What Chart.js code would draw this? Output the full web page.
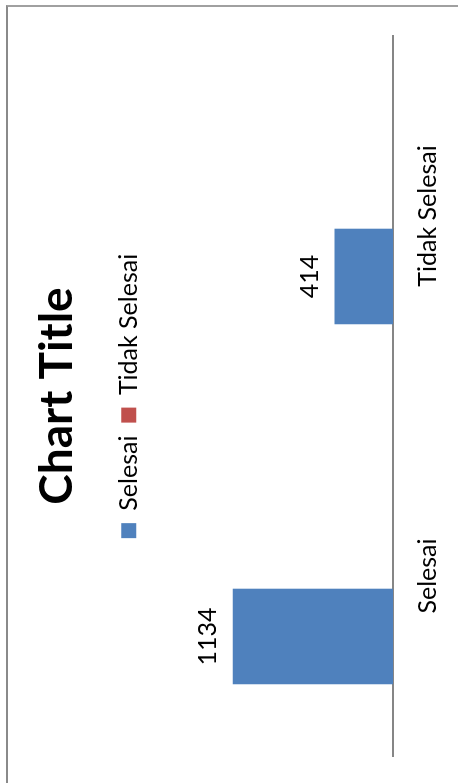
<!DOCTYPE html>
<html>
<head>
<meta charset="utf-8">
<script src="https://cdn.jsdelivr.net/npm/chart.js@4"></script>
<style>
    html, body { margin: 0; padding: 0; overflow: hidden; background: #fff; }
    #frame {
        position: absolute; left: 6px; top: 5px; width: 600px; height: 900px;
        border-left: 2px solid #8a8a8a; border-top: 2px solid #a0a0a0;
    }
    #wrap {
        position: absolute; left: 0; top: 0; width: 783px; height: 470px;
        transform-origin: 0 0; transform: translate(0, 783px) rotate(-90deg);
    }
</style>
</head>
<body>
<div id="frame"></div>
<div id="wrap"><canvas id="statusChart"></canvas></div>
<script>
const categories = ['Selesai', 'Tidak Selesai'];
const selesaiValues = [1134, 414];
const tidakSelesaiValues = [null, null];

const fontName = 'Lato, sans-serif';

// value labels above the bars
const valueLabels = {
    id: 'valueLabels',
    afterDatasetsDraw(chart) {
        const ctx = chart.ctx;
        ctx.save();
        ctx.font = '25px ' + fontName;
        ctx.fillStyle = '#000';
        ctx.textAlign = 'center';
        ctx.textBaseline = 'middle';
        chart.data.datasets.forEach((ds, i) => {
            chart.getDatasetMeta(i).data.forEach((bar, j) => {
                if (ds.data[j] == null) return;
                ctx.fillText(ds.data[j], bar.x, bar.y - 25);
            });
        });
        ctx.restore();
    }
};

const ctx = document.getElementById('statusChart').getContext('2d');
let chart = new Chart(ctx, {
    type: 'bar',
    data: {
        labels: categories,
        datasets: [{
            label: 'Selesai',
            data: selesaiValues,
            backgroundColor: '#4f81bd',
            categoryPercentage: 0.672,
            barPercentage: 0.79
        }, {
            label: 'Tidak Selesai',
            data: tidakSelesaiValues,
            backgroundColor: '#c0504d',
            categoryPercentage: 0.672,
            barPercentage: 0.79
        }]
    },
    options: {
        responsive: true,
        maintainAspectRatio: false,
        animation: false,
        layout: {
            padding: { left: 27, right: 36, top: 12, bottom: 7 }
        },
        plugins: {
            title: {
                display: true,
                text: 'Chart Title',
                color: '#000',
                font: { family: fontName, size: 46, weight: 'bold' },
                padding: { top: 18, bottom: 18 }
            },
            legend: {
                position: 'top',
                labels: {
                    color: '#000',
                    font: { family: fontName, size: 25 },
                    boxWidth: 15,
                    boxHeight: 15,
                    padding: 13
                }
            },
            tooltip: { enabled: false }
        },
        scales: {
            x: {
                grid: { display: false, drawTicks: false },
                border: { display: true, color: '#868686', width: 2 },
                ticks: {
                    color: '#000',
                    font: { family: fontName, size: 25 },
                    padding: 20
                }
            },
            y: {
                display: false,
                min: 0,
                max: 1710
            }
        }
    },
    plugins: [valueLabels]
});
</script>
</body>
</html>
